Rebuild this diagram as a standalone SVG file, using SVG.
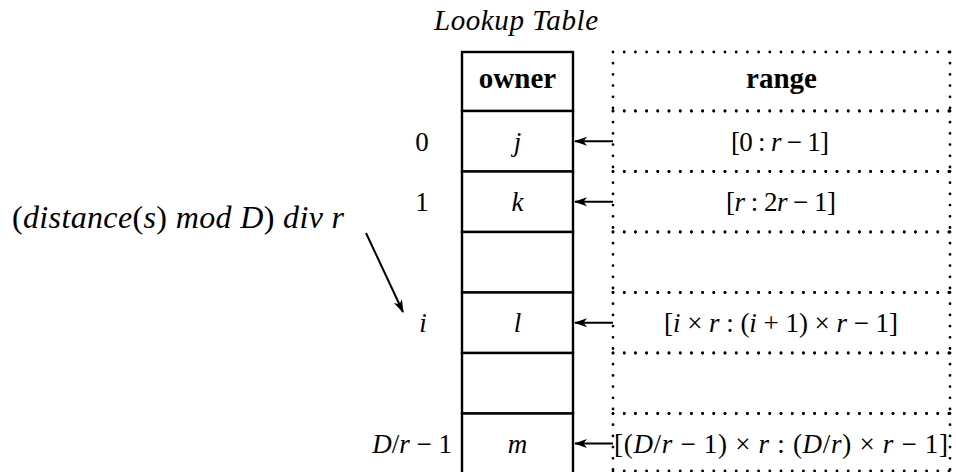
<svg xmlns="http://www.w3.org/2000/svg" width="956" height="472" viewBox="0 0 956 472">
<style>
.t{font-family:"Liberation Serif","DejaVu Serif",serif;font-size:27px;fill:#000}
.c{text-anchor:middle}
.e{text-anchor:end}
.i{font-style:italic}
.b{font-weight:bold;font-size:29px}
.big{font-size:32px}
.ttl{font-size:29px}
.cell{fill:#fff;stroke:#000;stroke-width:2.4}
.dot{stroke:#000;stroke-width:2.8;stroke-linecap:round;stroke-dasharray:0 11.2;fill:none}
.arr{stroke:#000;stroke-width:2;fill:none;marker-end:url(#ah)}
</style>
<defs>
<marker id="ah" viewBox="0 0 13 10" refX="12" refY="5" markerWidth="13" markerHeight="10" markerUnits="userSpaceOnUse" orient="auto">
<path d="M0,0.5 L13,5 L0,9.5 L3.5,5 z" fill="#000"/>
</marker>
</defs>
<rect width="956" height="472" fill="#fff"/>

<text id="title" class="t c i ttl" x="516" y="30" textLength="164">Lookup Table</text>

<g id="header">
<rect class="cell" x="462" y="52" width="111" height="59"/>
<text class="t c b" x="517.5" y="88">owner</text>
<path class="dot" d="M613,52 H950 M613,111 H950 M613,52 V111 M950,52 V111"/>
<text class="t c b" x="781.5" y="88">range</text>
</g>

<g id="row0">
<rect class="cell" x="462" y="111" width="111" height="60.5"/>
<text class="t c i" x="517.5" y="150.5">j</text>
<text class="t c" x="422" y="150.5">0</text>
<path class="dot" d="M613,111 H950 M613,171.5 H950 M613,111 V171.5 M950,111 V171.5"/>
<text class="t c" x="780" y="150.5" textLength="98">[0 : <tspan class="i">r</tspan> − 1]</text>
</g>

<g id="row1">
<rect class="cell" x="462" y="171.5" width="111" height="60.5"/>
<text class="t c i" x="517.5" y="211">k</text>
<text class="t c" x="422" y="211">1</text>
<path class="dot" d="M613,171.5 H950 M613,232 H950 M613,171.5 V232 M950,171.5 V232"/>
<text class="t c" x="781" y="211" textLength="110">[<tspan class="i">r</tspan> : 2<tspan class="i">r</tspan> − 1]</text>
</g>

<g id="row2">
<rect class="cell" x="462" y="232" width="111" height="60.5"/>
<path class="dot" d="M613,232 H950 M613,292.5 H950 M613,232 V292.5 M950,232 V292.5"/>
</g>

<g id="rowi">
<rect class="cell" x="462" y="292.5" width="111" height="60.5"/>
<text class="t c i" x="517.5" y="332">l</text>
<text class="t c i" x="423" y="332">i</text>
<path class="dot" d="M613,292.5 H950 M613,353 H950 M613,292.5 V353 M950,292.5 V353"/>
<text class="t c" x="781" y="332" textLength="234">[<tspan class="i">i</tspan> × <tspan class="i">r</tspan> : (<tspan class="i">i</tspan> + 1) × <tspan class="i">r</tspan> − 1]</text>
</g>

<g id="row4">
<rect class="cell" x="462" y="353" width="111" height="60.5"/>
<path class="dot" d="M613,353 H950 M613,413.5 H950 M613,353 V413.5 M950,353 V413.5"/>
</g>

<g id="rowlast">
<rect class="cell" x="462" y="413.5" width="111" height="62"/>
<text class="t c i" x="517.5" y="452.5">m</text>
<text class="t e" x="452" y="452.5"><tspan class="i">D</tspan>/<tspan class="i">r</tspan> − 1</text>
<path class="dot" d="M613,413.5 H950 M613,471 H950 M613,413.5 V471 M950,413.5 V471"/>
<text class="t c" x="781" y="452.5" textLength="334">[(<tspan class="i">D</tspan>/<tspan class="i">r</tspan> − 1) × <tspan class="i">r</tspan> : (<tspan class="i">D</tspan>/<tspan class="i">r</tspan>) × <tspan class="i">r</tspan> − 1]</text>
</g>

<text id="formula" class="t big" x="12" y="228" textLength="332">(<tspan class="i">distance</tspan>(<tspan class="i">s</tspan>) <tspan class="i">mod D</tspan>) <tspan class="i">div r</tspan></text>

<g id="connectors">
<line class="arr" x1="613" y1="141.2" x2="575" y2="141.2"/>
<line class="arr" x1="613" y1="201.7" x2="575" y2="201.7"/>
<line class="arr" x1="613" y1="322.7" x2="575" y2="322.7"/>
<line class="arr" x1="613" y1="443.5" x2="575" y2="443.5"/>
<line class="arr" x1="366" y1="233" x2="403" y2="312"/>
</g>
</svg>
